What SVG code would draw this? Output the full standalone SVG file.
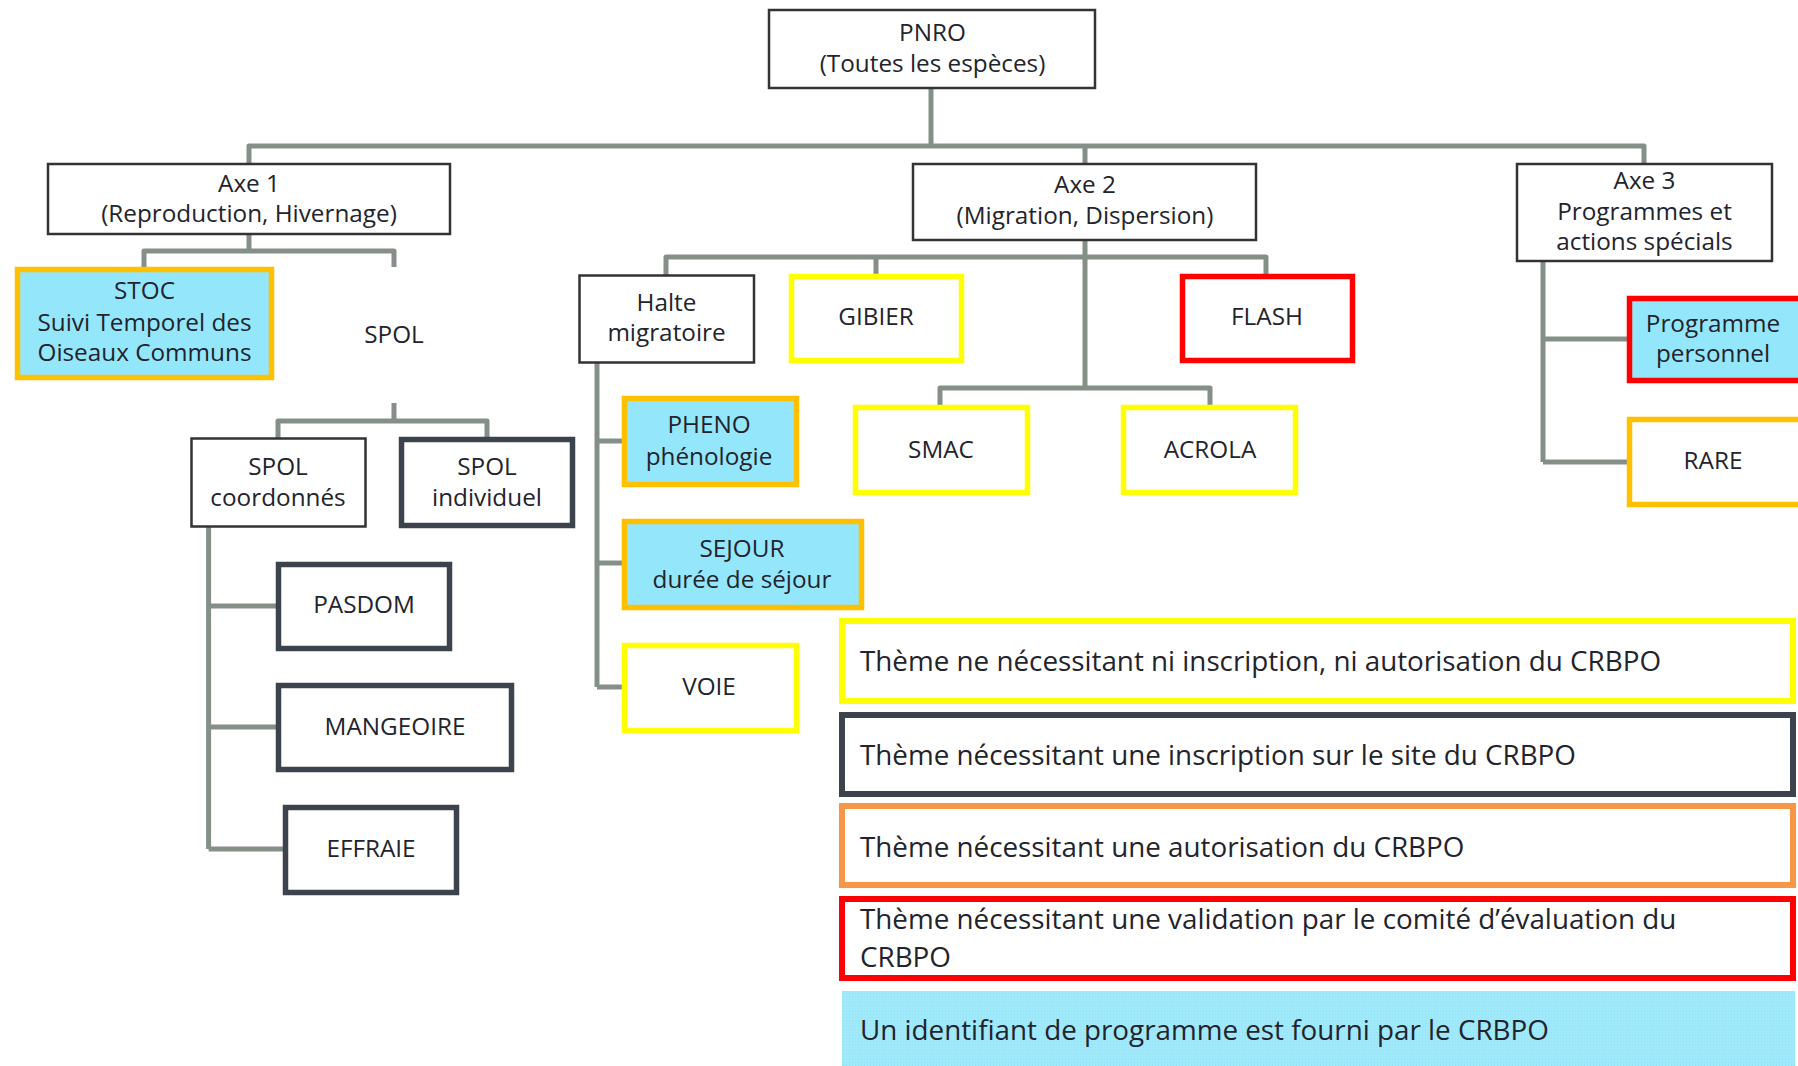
<svg xmlns="http://www.w3.org/2000/svg" width="1798" height="1066" viewBox="0 0 1798 1066">
<style>
text{font-family:"Open Sans","Noto Sans","Liberation Sans",sans-serif;fill:#23232c;}
.n{font-size:24.3px;text-anchor:middle;}
.l{font-size:27.8px;}
.thin{fill:#fff;stroke:#333;stroke-width:2.5;}
.dark{fill:#fff;stroke:#3c434d;stroke-width:5.5;}
.yel{fill:#fff;stroke:#ffff00;stroke-width:5.5;}
.red{fill:#fff;stroke:#ff0000;stroke-width:5.5;}
.ora{fill:#fff;stroke:#ffc000;stroke-width:5.5;}
.conn{fill:none;stroke:#848f88;stroke-width:5;stroke-linejoin:round;}
</style>
<defs>
<pattern id="dots" width="3" height="3" patternUnits="userSpaceOnUse"><rect width="3" height="3" fill="#9fe9fa"/><rect width="1" height="1" fill="#8fe2f5"/></pattern>
</defs>
<rect width="1798" height="1066" fill="#fff"/>
<g id="connectors" class="conn">
<path d="M931 88V146M249 164V146H1644V164M1085 146V164"/>
<path d="M249 234V251M144 268V251H394V267"/>
<path d="M394 403V421M278 438V421H487V437"/>
<path d="M208.6 527V849M208.6 606H277M208.6 727H277M208.6 849H284"/>
<path d="M666 275V257H1266V274M876 257V274M1085 240V388M940 405V388H1210V405"/>
<path d="M597 363V687M597 441H622M597 563H622M597 687H622"/>
<path d="M1543 261V462M1543 339H1627M1543 462H1627"/>
</g>
<g id="pnro"><rect class="thin" x="769" y="10" width="326" height="78"/><text class="n" x="932.5" y="40.5">PNRO</text><text class="n" x="932.5" y="71.5">(Toutes les espèces)</text></g>
<g id="axe1"><rect class="thin" x="48" y="164" width="402" height="70"/><text class="n" x="249" y="191.5">Axe 1</text><text class="n" x="249" y="221.5">(Reproduction, Hivernage)</text></g>
<g id="axe2"><rect class="thin" x="913" y="164" width="343" height="76"/><text class="n" x="1085" y="193">Axe 2</text><text class="n" x="1085" y="224">(Migration, Dispersion)</text></g>
<g id="axe3"><rect class="thin" x="1517" y="164" width="255" height="97"/><text class="n" x="1644.5" y="189">Axe 3</text><text class="n" x="1644.5" y="220">Programmes et</text><text class="n" x="1644.5" y="249.5">actions spécials</text></g>
<g id="stoc"><rect class="ora" x="17.5" y="269.5" width="254" height="108" style="fill:#94e7fb"/><text class="n" x="144.5" y="299">STOC</text><text class="n" x="144.5" y="330.5">Suivi Temporel des</text><text class="n" x="144.5" y="361">Oiseaux Communs</text></g>
<g id="spol"><text class="n" x="394" y="343">SPOL</text></g>
<g id="spol-coord"><rect class="thin" x="191.5" y="438.5" width="174" height="88"/><text class="n" x="278" y="475">SPOL</text><text class="n" x="278" y="506">coordonnés</text></g>
<g id="spol-indiv"><rect class="dark" x="401.5" y="439.5" width="171" height="86"/><text class="n" x="487" y="475">SPOL</text><text class="n" x="487" y="506">individuel</text></g>
<g id="pasdom"><rect class="dark" x="278.5" y="564.5" width="171" height="84"/><text class="n" x="364" y="613">PASDOM</text></g>
<g id="mangeoire"><rect class="dark" x="278.5" y="685.5" width="233" height="84"/><text class="n" x="395" y="735">MANGEOIRE</text></g>
<g id="effraie"><rect class="dark" x="285.5" y="807.5" width="171" height="85"/><text class="n" x="371" y="857">EFFRAIE</text></g>
<g id="halte"><rect class="thin" x="579.5" y="275.5" width="174.5" height="87"/><text class="n" x="666.5" y="310.5">Halte</text><text class="n" x="666.5" y="340.5">migratoire</text></g>
<g id="gibier"><rect class="yel" x="791.5" y="276.5" width="170" height="84"/><text class="n" x="876" y="325">GIBIER</text></g>
<g id="flash"><rect class="red" x="1182.5" y="276.5" width="170" height="84"/><text class="n" x="1267" y="325">FLASH</text></g>
<g id="smac"><rect class="yel" x="855.5" y="407.5" width="172" height="85"/><text class="n" x="941" y="458">SMAC</text></g>
<g id="acrola"><rect class="yel" x="1123.5" y="407.5" width="172" height="85"/><text class="n" x="1210" y="458">ACROLA</text></g>
<g id="pheno"><rect class="ora" x="624.5" y="398.5" width="172" height="86" style="fill:#94e7fb"/><text class="n" x="709" y="433">PHENO</text><text class="n" x="709" y="465">phénologie</text></g>
<g id="sejour"><rect class="ora" x="624.5" y="521.5" width="237" height="86" style="fill:#94e7fb"/><text class="n" x="742" y="556.5">SEJOUR</text><text class="n" x="742" y="588">durée de séjour</text></g>
<g id="voie"><rect class="yel" x="624.5" y="645.5" width="172" height="85"/><text class="n" x="709" y="695">VOIE</text></g>
<g id="prog-perso"><rect class="red" x="1629.5" y="298.5" width="180" height="82" style="fill:#94e7fb"/><text class="n" x="1713" y="331.5">Programme</text><text class="n" x="1713" y="361.5">personnel</text></g>
<g id="rare"><rect class="ora" x="1629.5" y="419.5" width="180" height="85"/><text class="n" x="1713" y="469">RARE</text></g>
<g id="legend-yellow"><rect x="842" y="621" width="951" height="80" style="fill:#fff;stroke:#ffff00;stroke-width:6"/><text class="l" x="860" y="670.5">Thème ne nécessitant ni inscription, ni autorisation du CRBPO</text></g>
<g id="legend-dark"><rect x="842" y="715" width="951" height="79" style="fill:#fff;stroke:#3c434d;stroke-width:6"/><text class="l" x="860" y="765">Thème nécessitant une inscription sur le site du CRBPO</text></g>
<g id="legend-orange"><rect x="842" y="806" width="951" height="79" style="fill:#fff;stroke:#f79646;stroke-width:6"/><text class="l" x="860" y="856.5">Thème nécessitant une autorisation du CRBPO</text></g>
<g id="legend-red"><rect x="842" y="899" width="951" height="79" style="fill:#fff;stroke:#ff0000;stroke-width:6"/><text class="l" x="860" y="928.5">Thème nécessitant une validation par le comité d’évaluation du</text><text class="l" x="860" y="966.5">CRBPO</text></g>
<g id="legend-cyan"><rect x="842" y="991" width="953" height="75" fill="url(#dots)"/><text class="l" x="860" y="1040">Un identifiant de programme est fourni par le CRBPO</text></g>
</svg>
